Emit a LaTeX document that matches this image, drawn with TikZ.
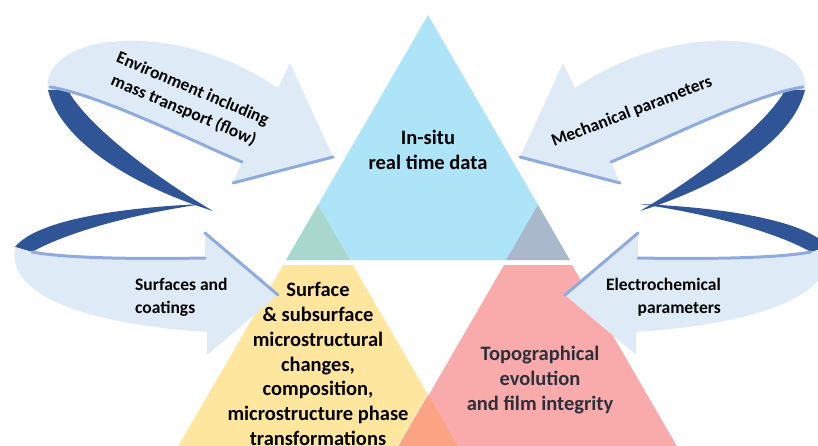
\documentclass[tikz,border=0pt]{standalone}
\usepackage{fontspec}
\setmainfont{Carlito}
\usepackage{tikz}
\definecolor{bandlight}{HTML}{DEEBF7}
\definecolor{bandedge}{HTML}{8FAADC}
\definecolor{banddark}{HTML}{2F5597}
\definecolor{datablue}{HTML}{AEE4F7}
\definecolor{surfyellow}{HTML}{FFE69F}
\definecolor{topored}{HTML}{F9ABAB}
\definecolor{overlapgreen}{HTML}{A8D8CD}
\definecolor{overlapgray}{HTML}{A9B8CA}
\definecolor{overlaporange}{HTML}{FBA383}
\definecolor{topotext}{HTML}{2D303A}
\tikzset{
bandfill/.style={fill=bandlight, draw=none},
bandback/.style={fill=banddark, draw=none},
bandrim/.style={draw=bandedge, line width=3pt, line cap=round},
arrowtext/.style={font=\bfseries\fontsize{17.5}{23}\selectfont, align=center, inner sep=0pt},
bigtext/.style={font=\bfseries\fontsize{20.5}{24.7}\selectfont, align=center, inner sep=0pt},
}
% swoop going over the top, head pointing right
\newcommand{\upperswoop}{%
  \path[bandback] (48,90) .. controls (60,140) and (130,185) .. (213,211)
     .. controls (140,168) and (82,118) .. (68,90) -- cycle;
  \path[bandfill] (48,90) .. controls (40,35) and (170,15) .. (278,88)
     -- (290,63) -- (333,157) -- (233,183) -- (242,162)
     .. controls (190,140) and (100,95) .. (50,87) -- cycle;
  \draw[bandrim] (242,162) .. controls (190,140) and (100,95) .. (50,87);
  \draw[bandrim] (233,183) -- (333,157);
}
% swoop going round underneath, head pointing right
\newcommand{\lowerswoop}{%
  \path[bandback] (203,204) .. controls (110,208) and (35,222) .. (15,247)
     -- (32,252) .. controls (60,236) and (120,216) .. (203,204) -- cycle;
  \path[bandfill] (15,247) -- (32,252) .. controls (70,259) and (150,259) .. (205,258)
     -- (205,233) -- (278,295) -- (207,355) -- (207,332)
     .. controls (100,325) and (5,300) .. (15,247) -- cycle;
  \draw[bandrim] (32,252) .. controls (70,259) and (150,259) .. (205,258);
  \draw[bandrim] (205,233) -- (278,295);
}
\begin{document}
\begin{tikzpicture}[x=1pt, y=-1pt]
    \useasboundingbox (0,0) rectangle (818,446);
    \clip (0,0) rectangle (818,446);

    \coordinate (topapex) at (428,15);
    \coordinate (topleft) at (286,260);
    \coordinate (topright) at (570,260);
    \coordinate (surfapex) at (318,205);
    \coordinate (surfleft) at (176,450);
    \coordinate (surfright) at (460,450);
    \coordinate (topoapex) at (538,205);
    \coordinate (topoleft) at (396,450);
    \coordinate (toporight) at (680,450);

    \fill[datablue] (topapex) -- (topleft) -- (topright) -- cycle;
    \begin{scope}
    \clip (topapex) -- (topleft) -- (topright) -- cycle;
    \fill[overlapgreen] (surfapex) -- (surfleft) -- (surfright) -- cycle;
    \fill[overlapgray] (topoapex) -- (topoleft) -- (toporight) -- cycle;
    \end{scope}
    \begin{scope}
    \clip (0,265) rectangle (818,446);
    \fill[surfyellow] (surfapex) -- (surfleft) -- (surfright) -- cycle;
    \filldraw[fill=topored, draw=white, line width=1.2pt] (topoapex) -- (topoleft) -- (toporight) -- cycle;
    \clip (surfapex) -- (surfleft) -- (surfright) -- cycle;
    \fill[overlaporange] (topoapex) -- (topoleft) -- (toporight) -- cycle;
    \end{scope}

    \upperswoop
    \lowerswoop
    \begin{scope}[xshift=853pt, xscale=-1]
    \upperswoop
    \end{scope}
    \begin{scope}[xshift=843pt, xscale=-1]
    \lowerswoop
    \end{scope}

    \node[bigtext] (insitu) at (428,150) {In-situ\\real time data};
    \node[bigtext] (surface) at (318,364) {Surface\\\& subsurface\\microstructural\\changes,\\composition,\\microstructure phase\\transformations};
    \node[bigtext, text=topotext] (topo) at (540,380) {Topographical\\evolution\\and film integrity};
    \node[arrowtext, rotate=-23] (environ) at (188,100) {Environment including\\mass transport (flow)};
    \node[arrowtext, rotate=21] (mech) at (632,112) {Mechanical parameters};
    \node[arrowtext, align=left, anchor=west] (surfcoat) at (135,297) {Surfaces and\\coatings};
    \node[arrowtext, align=right, anchor=east] (electro) at (721,297) {Electrochemical\\parameters};
\end{tikzpicture}
\end{document}
